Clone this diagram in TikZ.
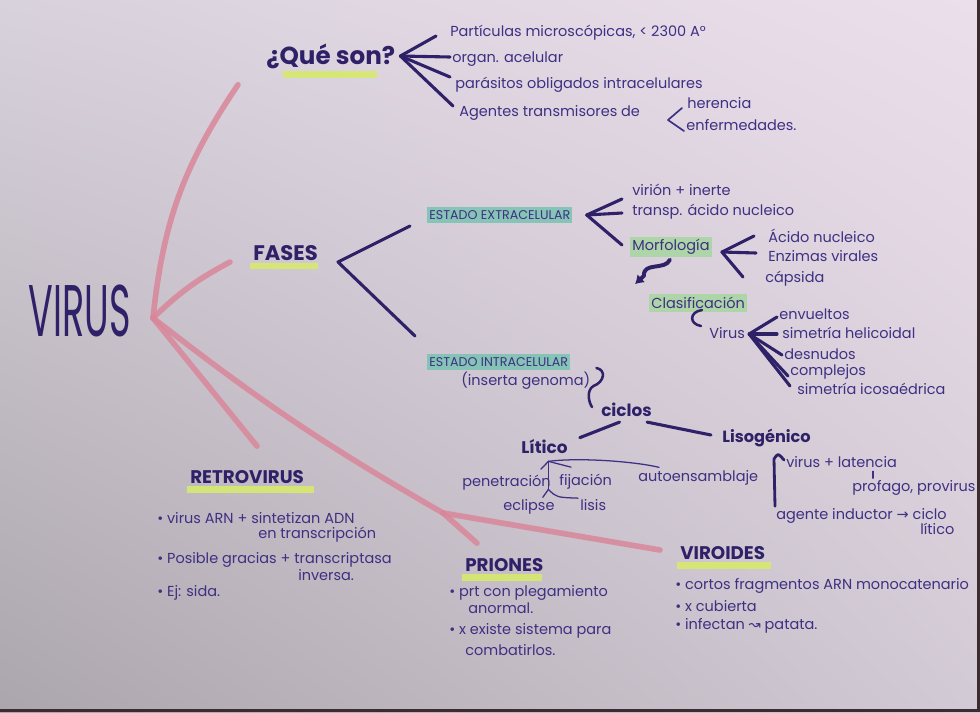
\documentclass[tikz,border=0pt]{standalone}
\usepackage{fontspec}
\setmainfont{Poppins}
\newfontfamily\symfont{DejaVu Sans}
\usetikzlibrary{arrows.meta, positioning, calc, backgrounds, shadings}
\definecolor{vink}{HTML}{3E3082}
\definecolor{vinkdark}{HTML}{2F2168}
\definecolor{vpink}{HTML}{D9879A}
\definecolor{vyellow}{HTML}{D6EA6E}
\definecolor{vteal}{HTML}{79C3B2}
\definecolor{vgreen}{HTML}{A7D6A0}
\definecolor{paperUL}{HTML}{D8D2DC}
\definecolor{paperUR}{HTML}{ECDFEC}
\definecolor{paperLL}{HTML}{ABA5AD}
\definecolor{paperLR}{HTML}{D2CAD4}
\definecolor{tableedge}{HTML}{3A2C30}
\tikzset{
  txt/.style={anchor=west, inner sep=0pt, text=vink,
              font=\fontsize{10.3}{12}\selectfont},
  head/.style={anchor=west, inner sep=0pt, text=vinkdark,
               font=\fontsize{13}{15}\selectfont\bfseries},
  subhead/.style={head, font=\fontsize{12}{14}\selectfont\bfseries},
  bigword/.style={inner sep=0pt, text=vinkdark, xscale=0.5, transform shape,
                  font=\fontsize{52}{52}\selectfont},
  tealbox/.style={txt, fill=vteal, fill opacity=.85, text opacity=1,
                  inner xsep=1.5pt, inner ysep=2.5pt, font=\fontsize{9}{10}\selectfont},
  greenbox/.style={txt, fill=vgreen, fill opacity=.85, text opacity=1,
                   inner xsep=1.5pt, inner ysep=2pt},
  hl/.style={fill=vyellow, fill opacity=.9},
  ink/.style={vinkdark, line width=2.2pt, line cap=round, line join=round},
  thinink/.style={vink, line width=0.9pt, line cap=round, line join=round},
  pinkline/.style={vpink, line width=4pt, line cap=round, opacity=.85},
}

\begin{document}
\begin{tikzpicture}[x=0.025cm, y=-0.025cm]

  % papel
  \begin{scope}[on background layer]
    \shade[upper left=paperUL, upper right=paperUR, lower left=paperLL,
           lower right=paperLR] (0,0) rectangle (980,712);
    \fill[tableedge] (977,0) rectangle (980,712);
    \fill[tableedge] (0,709) rectangle (980,712);
  \end{scope}
  \useasboundingbox (0,0) rectangle (980,712);

  % Nodo central
  \node[bigword] (virus) at (80,311) {VIRUS};

  % ¿Qué son?
  \node[head, font=\fontsize{17.5}{19}\selectfont\bfseries] (queson) at (266,56) {¿Qué son?};
  \node[txt] (q1) at (450,33) {Partículas microscópicas, < 2300 A°};
  \node[txt] (q2) at (452,59) {organ. acelular};
  \node[txt] (q3) at (455,85) {parásitos obligados intracelulares};
  \node[txt] (q4) at (459,113) {Agentes transmisores de};
  \node[txt] (q4a) at (687,103) {herencia};
  \node[txt] (q4b) at (686,125) {enfermedades.};

  % Fases
  \node[head, font=\fontsize{15}{17}\selectfont\bfseries] (fases) at (253,253) {FASES};
  \node[tealbox] (ext) at (427,215) {ESTADO EXTRACELULAR};
  \node[tealbox] (int) at (427,362) {ESTADO INTRACELULAR};

  % Estado extracelular
  \node[txt] (e1) at (632,190) {virión + inerte};
  \node[txt] (e2) at (632,212) {transp. ácido nucleico};
  \node[greenbox] (morf) at (630,247) {Morfología};
  \node[txt] (m1) at (768,236) {Ácido nucleico};
  \node[txt] (m2) at (768,256) {Enzimas virales};
  \node[txt] (m3) at (765,279) {cápsida};
  \node[greenbox] (clas) at (649,303) {Clasificación};
  \node[txt] (vir2) at (709,333) {Virus};
  \node[txt] (c1) at (779,314) {envueltos};
  \node[txt] (c2) at (782,333) {simetría helicoidal};
  \node[txt] (c3) at (784,354) {desnudos};
  \node[txt] (c4) at (790,372) {complejos};
  \node[txt] (c5) at (797,389) {simetría icosaédrica};

  % Estado intracelular
  \node[txt] (inserta) at (461,381) {(inserta genoma)};
  \node[subhead] (ciclos) at (601,410) {ciclos};
  \node[subhead] (litico) at (521,447) {Lítico};
  \node[subhead, font=\fontsize{11.5}{13}\selectfont\bfseries] (liso) at (722,438) {Lisogénico};
  \node[txt] (pen) at (462,483) {penetración};
  \node[txt] (fij) at (559,482) {fijación};
  \node[txt] (auto) at (638,478) {autoensamblaje};
  \node[txt] (ecl) at (503,507) {eclipse};
  \node[txt] (lis) at (580,505) {lisis};
  \node[txt] (lat) at (786,462) {virus + latencia};
  \node[txt] (prof) at (852,488) {profago, provirus};
  \node[txt] (ag) at (776,516) {agente inductor {\symfont →} ciclo};
  \node[txt] (ag2) at (920,529) {lítico};

  % Retrovirus
  \node[head] (retro) at (190,477) {RETROVIRUS};
  \node[txt] (r1) at (157,518) {• virus ARN + sintetizan ADN};
  \node[txt] (r1b) at (258,535) {en transcripción};
  \node[txt] (r2) at (157,560) {• Posible gracias + transcriptasa};
  \node[txt] (r2b) at (298,575) {inversa.};
  \node[txt] (r3) at (157,593) {• Ej: sida.};

  % Priones
  \node[head] (prio) at (465,565) {PRIONES};
  \node[txt] (p1) at (449,593) {• prt con plegamiento};
  \node[txt] (p1b) at (468,608) {anormal.};
  \node[txt] (p2) at (449,631) {• x existe sistema para};
  \node[txt] (p2b) at (465,650) {combatirlos.};

  % Viroides
  \node[head] (viro) at (680,553) {VIROIDES};
  \node[txt] (v1) at (675,586) {• cortos fragmentos ARN monocatenario};
  \node[txt] (v2) at (675,606) {• x cubierta};
  \node[txt] (v3) at (675,626) {• infectan {\symfont ↝} patata.};

  % subrayados
  \begin{scope}[on background layer]
    \fill[hl] ($(queson.south west)+(17,2)$) rectangle ($(queson.south east)+(-18,9)$);
    \fill[hl] ($(fases.south west)+(-3,2)$) rectangle ($(fases.south east)+(0,8)$);
    \fill[hl] ($(retro.south west)+(-3,2)$) rectangle ($(retro.south east)+(10,9)$);
    \fill[hl] ($(prio.south west)+(-3,2)$) rectangle ($(prio.south east)+(-2,9)$);
    \fill[hl] ($(viro.south west)+(-3,2)$) rectangle ($(viro.south east)+(6,9)$);
  \end{scope}

  % Ramas rosas
  \coordinate (hub) at (153,318);
  \coordinate (kink) at (443,513);
  \draw[pinkline] (hub) to[bend left=14] ($(queson.south west)+(-28,16)$);
  \draw[pinkline] (hub) to[bend left=8] ($(fases.west)+(-23,9)$);
  \draw[pinkline] (hub) -- ($(retro.north west)+(67,-24)$);
  \draw[pinkline] (hub) to[bend right=4] (kink);
  \draw[pinkline] (kink) -- ($(prio.north west)+(12,-15)$);
  \draw[pinkline] (kink) -- ($(viro.west)+(-20,-3)$);

  % Abanico ¿Qué son?
  \coordinate (qtip) at ($(queson.east)+(5,0)$);
  \draw[ink] (qtip) -- ($(q1.west)+(-14,3)$);
  \draw[ink] (qtip) -- ($(q2.west)+(-2,-2)$);
  \draw[ink] (qtip) -- ($(q3.west)+(-5,-8)$);
  \draw[ink] (qtip) -- ($(q4.west)+(-6,-7)$);
  \coordinate (htip) at ($(q4a.west)+(-19,17)$);
  \draw[thinink, line width=1.2pt] ($(q4a.west)+(-5,5)$) -- (htip) -- ($(q4b.west)+(-2,6)$);

  % Abanico Fases
  \coordinate (ftip) at ($(fases.east)+(20,9)$);
  \draw[ink] ($(ext.west)+(-17,11)$) -- (ftip) -- ($(int.west)+(-12,-26)$);

  % Abanico extracelular
  \coordinate (etip) at ($(ext.east)+(14,0)$);
  \draw[ink] (etip) -- ($(e1.west)+(-10,9)$);
  \draw[ink] (etip) -- ($(e2.west)+(-10,1)$);
  \draw[ink] (etip) -- ($(morf.west)+(-8,-2)$);

  % Abanico morfologia
  \coordinate (mtip) at ($(morf.east)+(10,5)$);
  \draw[ink] (mtip) -- ($(m1.west)+(-14,0)$);
  \draw[ink] (mtip) -- ($(m2.west)+(-12,-3)$);
  \draw[ink] (mtip) -- ($(m3.west)+(-22,-2)$);

  % Flecha morfologia -> clasificacion
  \draw[ink, line width=2.8pt, -{Latex[length=6pt, width=8pt]}] ($(morf.south)+(-1,2)$)
    .. controls ($(morf.south)+(-6,13)$) and ($(morf.south)+(-28,4)$) .. ($(morf.south)+(-27,18)$)
    -- ($(clas.north west)+(-14,-10)$);

  % Virus -> clasificacion
  \draw[ink, line width=1.8pt] ($(vir2.west)+(-7,-23)$)
    .. controls ($(vir2.west)+(-20,-21)$) and ($(vir2.west)+(-20,-9)$) .. ($(vir2.west)+(-8,-7)$);
  \coordinate (vtip) at ($(vir2.east)+(4,1)$);
  \draw[ink] (vtip) -- ($(c1.west)+(-2,3)$);
  \draw[ink] (vtip) -- ($(c2.west)+(-5,1)$);
  \draw[ink] (vtip) -- ($(c3.west)+(-2,1)$);
  \draw[ink] (vtip) -- ($(c4.west)+(-2,4)$);
  \draw[ink] (vtip) -- ($(c5.west)+(-7,-3)$);

  % Intracelular -> ciclos
  \draw[ink, line width=1.8pt] ($(inserta.east)+(6,-13)$)
    .. controls ($(inserta.east)+(16,-11)$) and ($(inserta.east)+(14,1)$) .. ($(inserta.east)+(3,5)$)
    .. controls ($(inserta.east)+(-4,9)$) and ($(inserta.east)+(-2,21)$) .. ($(ciclos.west)+(-9,-3)$);
  \draw[ink] ($(ciclos.south)+(-7,5)$) -- ($(litico.north east)+(12,-2)$);
  \draw[ink] ($(ciclos.south east)+(-5,5)$) -- ($(liso.west)+(-11,-3)$);

  % Litico
  \coordinate (jl) at ($(litico.south)+(4,7)$);
  \draw[thinink] (jl) -- ($(pen.north east)+(-10,-6)$);
  \draw[thinink] (jl) -- ($(fij.north west)+(12,-7)$);
  \draw[thinink] (jl) .. controls +(30,-4) and +(-25,-6) .. ($(auto.north west)+(21,-3)$);
  \draw[thinink] (jl) -- ++(0,28) coordinate (js);
  \draw[thinink] (js) -- ($(ecl.north east)+(-12,-2)$);
  \draw[thinink] (js) .. controls +(8,8) .. ($(lis.north west)+(-2,-1)$);

  % Lisogenico
  \draw[ink, line width=2pt] ($(lat.west)+(-2,-2)$)
    .. controls ($(lat.west)+(-8,-9)$) .. ($(lat.west)+(-12,-3)$)
    -- ($(ag.north west)+(-1,-2)$);
  \draw[thinink] ($(prof.north west)+(21,-2)$) -- ($(prof.north west)+(21,-9)$);

\end{tikzpicture}
\end{document}
